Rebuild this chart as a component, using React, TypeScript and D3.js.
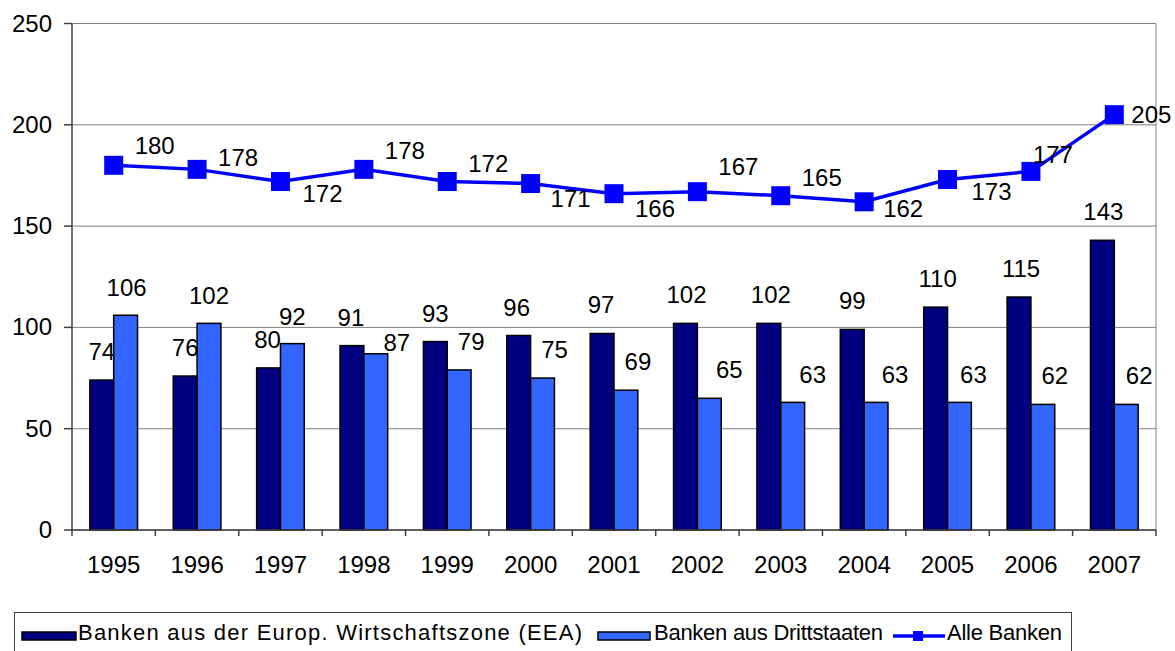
import React from "react";
import * as d3 from "d3";

const years = ["1995","1996","1997","1998","1999","2000","2001","2002","2003","2004","2005","2006","2007"];
const eeaBanks = [74, 76, 80, 91, 93, 96, 97, 102, 102, 99, 110, 115, 143];
const thirdCountryBanks = [106, 102, 92, 87, 79, 75, 69, 65, 63, 63, 63, 62, 62];
const allBanks = [180, 178, 172, 178, 172, 171, 166, 167, 165, 162, 173, 177, 205];
const yTicks = [0, 50, 100, 150, 200, 250];
const seriesNames = ["Banken aus der Europ. Wirtschaftszone (EEA)", "Banken aus Drittstaaten", "Alle Banken"];

// label placement (layout only)
const eeaLabelDx = [0, 0, -1, -1, 0, -2, -1, 1, 2, 0, 2, 2, 1];
const thirdLabelDx = [1, 0, 0, 21, 12, 12, 12, 20, 20, 19, 14, 12, 13];
const thirdLabelDy = [-19, -19, -19, -3, -20, -20, -20, -20, -19, -19, -19, -20, -20];
const lineLabelDx = [41, 41, 42, 41, 41, 40, 41, 41, 41, 39, 44, 22, 37];
const lineLabelDy = [-11, -3, 20, -10, -10, 23, 23, -17, -10, 15, 20, -8, 8];

const W = 1175, H = 651;
const L = 72, R = 1156, T = 23.5, B = 530;
const FONT = "'Liberation Sans', Arial, sans-serif";
const DARK = "#000080";
const LIGHT = "#3366FF";
const LINE = "#0000FF";

export default function App() {
  const x = d3.scaleBand<string>().domain(years).range([L, R]).paddingInner(0).paddingOuter(0);
  const inner = d3.scaleBand<string>().domain(["eea", "third"]).range([0, x.bandwidth()]).paddingInner(0).paddingOuter(0.75);
  const y = d3.scaleLinear().domain([0, 250]).range([B, T]);
  const cx = (i: number) => (x(years[i]) as number) + x.bandwidth() / 2;
  const line = d3.line<number>().x((_, i) => cx(i)).y((d) => y(d));
  const bw = inner.bandwidth();
  const ms = 19;

  return (
    <svg width={W} height={H} style={{ position: "absolute", left: 0, top: 0, background: "#fff" }} fontFamily={FONT}>
      {/* gridlines */}
      {yTicks.map((t) => (
        <line key={"g" + t} x1={L} x2={R} y1={y(t)} y2={y(t)} stroke="#808080" strokeWidth={1} />
      ))}
      {/* right border */}
      <line x1={R} x2={R} y1={T} y2={B} stroke="#808080" strokeWidth={1} />
      {/* bars */}
      {years.map((yr, i) => (
        <g key={"b" + yr}>
          <rect x={(x(yr) as number) + (inner("eea") as number)} y={y(eeaBanks[i])} width={bw} height={B - y(eeaBanks[i])} fill={DARK} stroke="#000" strokeWidth={1.5} />
          <rect x={(x(yr) as number) + (inner("third") as number)} y={y(thirdCountryBanks[i])} width={bw} height={B - y(thirdCountryBanks[i])} fill={LIGHT} stroke="#000" strokeWidth={1.5} />
        </g>
      ))}
      {/* axes */}
      <line x1={L} x2={L} y1={T} y2={B} stroke="#404040" strokeWidth={1.5} />
      <line x1={L} x2={R} y1={B} y2={B} stroke="#404040" strokeWidth={1.5} />
      {yTicks.map((t) => (
        <g key={"yt" + t}>
          <line x1={L - 8} x2={L} y1={y(t)} y2={y(t)} stroke="#404040" strokeWidth={1.5} />
          <text x={52} y={y(t) + 8} textAnchor="end" fontSize={24} fill="#000">{t}</text>
        </g>
      ))}
      {years.map((yr) => (
        <line key={"xt" + yr} x1={x(yr) as number} x2={x(yr) as number} y1={B} y2={B + 6} stroke="#404040" strokeWidth={1.5} />
      ))}
      <line x1={R} x2={R} y1={B} y2={B + 6} stroke="#404040" strokeWidth={1.5} />
      {years.map((yr, i) => (
        <text key={"xl" + yr} x={cx(i)} y={573} textAnchor="middle" fontSize={24} fill="#000">{yr}</text>
      ))}
      {/* bar labels */}
      {years.map((yr, i) => (
        <g key={"bl" + yr}>
          <text x={(x(yr) as number) + (inner("eea") as number) + bw / 2 + eeaLabelDx[i]} y={y(eeaBanks[i]) - 20} textAnchor="middle" fontSize={24} fill="#000">{eeaBanks[i]}</text>
          <text x={(x(yr) as number) + (inner("third") as number) + bw / 2 + thirdLabelDx[i]} y={y(thirdCountryBanks[i]) + thirdLabelDy[i]} textAnchor="middle" fontSize={24} fill="#000">{thirdCountryBanks[i]}</text>
        </g>
      ))}
      {/* line */}
      <path d={line(allBanks) || ""} fill="none" stroke={LINE} strokeWidth={3.5} />
      {allBanks.map((v, i) => (
        <rect key={"m" + i} x={cx(i) - ms / 2} y={y(v) - ms / 2} width={ms} height={ms} fill={LINE} />
      ))}
      {allBanks.map((v, i) => (
        <text key={"ll" + i} x={cx(i) + lineLabelDx[i]} y={y(v) + lineLabelDy[i]} textAnchor="middle" fontSize={24} fill="#000">{v}</text>
      ))}
      {/* legend */}
      <rect x={14.5} y={612.5} width={1057} height={50} fill="#fff" stroke="#404040" strokeWidth={1} />
      <rect x={22} y={632} width={54} height={8} fill={DARK} stroke="#000" strokeWidth={1.5} />
      <text x={78} y={640} fontSize={22} fill="#000" textLength={504} lengthAdjust="spacing">{seriesNames[0]}</text>
      <rect x={598} y={632} width={52} height={8} fill={LIGHT} stroke="#000" strokeWidth={1.5} />
      <text x={654} y={640} fontSize={22} fill="#000" textLength={229} lengthAdjust="spacing">{seriesNames[1]}</text>
      <line x1={893} x2={945} y1={636} y2={636} stroke={LINE} strokeWidth={3.5} />
      <rect x={913} y={631} width={10} height={10} fill={LINE} />
      <text x={947} y={640} fontSize={22} fill="#000" textLength={115} lengthAdjust="spacing">{seriesNames[2]}</text>
    </svg>
  );
}
